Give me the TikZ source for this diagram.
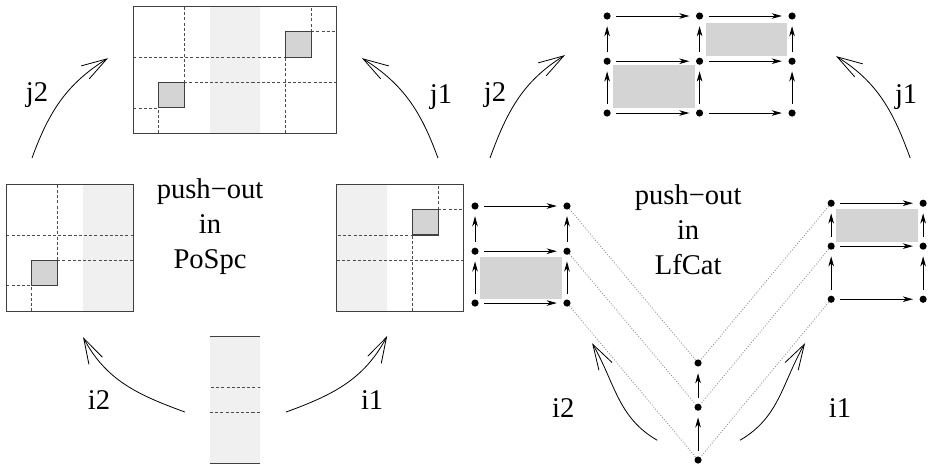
\documentclass[tikz,border=0pt]{standalone}
\usepackage{fontspec}
\setmainfont{Liberation Serif}
\usetikzlibrary{arrows.meta}

\tikzset{
	frame/.style={draw=black!75, line width=0.6pt},
	grid/.style={draw=black!70, line width=0.5pt, dash pattern=on 1.7pt off 1.2pt},
	band/.style={fill=black!6},
	cell/.style={fill=black!17, draw=black!75, line width=0.6pt},
	patch/.style={fill=black!17},
	dot/.style={circle, fill=black, inner sep=0pt, minimum size=4pt},
	mor/.style={-{Stealth[length=2mm, width=1.1mm, inset=0.6mm]}, line width=0.5pt, shorten <=3pt, shorten >=3.5pt},
	incl/.style={-{Straight Barb[length=5mm, width=3mm]}, line width=0.45pt},
	link/.style={densely dotted, draw=black!45, line width=0.5pt},
	lab/.style={font=\fontsize{16}{19.6}\selectfont}
}

% the grid of the glued space, cut down to the columns #2..#3
\newcommand\pospcpart[3]{%
	\begin{scope}[shift={#1}]
		\clip (#2,0) rectangle (#3,5);
		\fill[band] (3,0) rectangle (5,5);
		\draw[grid] (2,2) -- (2,5) (2,2) -- (8,2) (0,1) -- (1,1) (1,0) -- (1,1)
			(0,3) -- (6,3) (6,0) -- (6,3) (7,4) -- (7,5) (7,4) -- (8,4);
		\draw[cell] (1,1) rectangle (2,2);
		\draw[cell] (6,3) rectangle (7,4);
	\end{scope}}

\begin{document}
\begin{tikzpicture}[x=0.5cm, y=0.5cm]
	\useasboundingbox (0,0) rectangle (36.65,18.35);

	% PoSpc side
	\pospcpart{(5.25,13.1)}{0}{8}
	\pospcpart{(0.25,6.1)}{0}{5}
	\pospcpart{(10.25,6.1)}{3}{8}
	\pospcpart{(5.25,0.1)}{3}{5}
	\draw[frame] (5.25,13.1) rectangle +(8,5);
	\draw[frame] (0.25,6.1) rectangle +(5,5);
	\draw[frame] (13.25,6.1) rectangle +(5,5);
	\draw[frame] (8.25,0.1) -- +(2,0) (8.25,5.1) -- +(2,0);

	\node[lab, align=center] (po1) at (8.27,9.41) {push−out\\in\\PoSpc};

	\coordinate (j2s) at (1.26,12.13);  \coordinate (j2e) at (4.25,16.06);
	\coordinate (j1s) at (17.24,12.13); \coordinate (j1e) at (14.25,16.06);
	\coordinate (i2s) at (7.28,2.13);   \coordinate (i2e) at (3.27,5.08);
	\coordinate (i1s) at (11.26,2.13);  \coordinate (i1e) at (15.24,5.12);
	\draw[incl] (j2s) to[out=70, in=212] (j2e);
	\draw[incl] (j1s) to[out=110, in=-32] (j1e);
	\draw[incl] (i2s) to[out=160, in=-62] (i2e);
	\draw[incl] (i1s) to[out=20, in=242] (i1e);
	\node[lab] (j2l) at (1.46,14.61) {j2};
	\node[lab] (j1l) at (17.36,14.53) {j1};
	\node[lab] (i2l) at (3.9,2.6) {i2};
	\node[lab] (i1l) at (14.65,2.6) {i1};

	% LfCat side
	\fill[patch] (24.13,14.09) rectangle (27.36,15.79);
	\fill[patch] (27.8,16.14) rectangle (30.98,17.44);
	\fill[patch] (18.9,6.57) rectangle (22.13,8.23);
	\fill[patch] (32.91,8.82) rectangle (36.14,10.12);

	\foreach \x [count=\i] in {23.9,27.54,31.18}
		\foreach \y [count=\j] in {17.72,15.94,13.9}
			\node[dot] (t\i\j) at (\x,\y) {};
	\foreach \x [count=\i] in {18.7,22.32}
		\foreach \y [count=\j] in {10.24,8.46,6.42}
			\node[dot] (l\i\j) at (\x,\y) {};
	\foreach \x [count=\i] in {32.72,36.34}
		\foreach \y [count=\j] in {10.35,8.66,6.57}
			\node[dot] (r\i\j) at (\x,\y) {};
	\foreach \y [count=\j] in {4.06,2.32,0.24}
		\node[dot] (c\j) at (27.48,\y) {};

	\foreach \j in {1,2,3}
	{
		\draw[mor] (t1\j) -- (t2\j);
		\draw[mor] (t2\j) -- (t3\j);
		\draw[mor] (l1\j) -- (l2\j);
		\draw[mor] (r1\j) -- (r2\j);
		\draw[link] (l2\j) -- (c\j);
		\draw[link] (r1\j) -- (c\j);
	}
	\foreach \i in {1,2,3}
	{
		\draw[mor] (t\i3) -- (t\i2);
		\draw[mor] (t\i2) -- (t\i1);
	}
	\foreach \i in {1,2}
	{
		\draw[mor] (l\i3) -- (l\i2);
		\draw[mor] (l\i2) -- (l\i1);
		\draw[mor] (r\i3) -- (r\i2);
		\draw[mor] (r\i2) -- (r\i1);
	}
	\draw[mor] (c3) -- (c2);
	\draw[mor] (c2) -- (c1);

	\node[lab, align=center] (po2) at (27.09,9.29) {push−out\\in\\LfCat};

	\coordinate (k2s) at (19.29,12.13); \coordinate (k2e) at (22.24,16.18);
	\coordinate (k1s) at (35.83,12.13); \coordinate (k1e) at (32.91,16.14);
	\coordinate (m2s) at (25.87,1.02);  \coordinate (m2e) at (23.31,4.84);
	\coordinate (m1s) at (29.13,1.02);  \coordinate (m1e) at (31.69,4.84);
	\draw[incl] (k2s) to[out=70, in=212] (k2e);
	\draw[incl] (k1s) to[out=110, in=-32] (k1e);
	\draw[incl] (m2s) to[out=150, in=-60] (m2e);
	\draw[incl] (m1s) to[out=30, in=240] (m1e);
	\node[lab] (k2l) at (19.49,14.61) {j2};
	\node[lab] (k1l) at (35.67,14.53) {j1};
	\node[lab] (m2l) at (22.17,2.28) {i2};
	\node[lab] (m1l) at (33.07,2.28) {i1};
\end{tikzpicture}
\end{document}
